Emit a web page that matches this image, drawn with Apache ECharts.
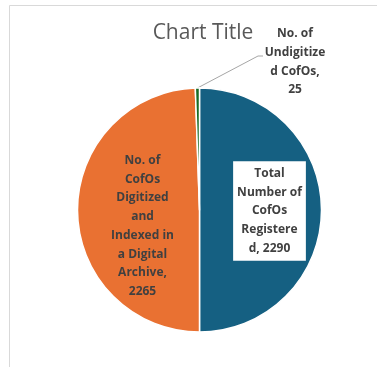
<!DOCTYPE html>
<html>
<head>
<meta charset="utf-8">
<script src="https://cdn.jsdelivr.net/npm/echarts@6/dist/echarts.min.js"></script>
<style>
html,body{margin:0;padding:0;background:#fff;}
#chart{width:377px;height:367px;}
</style>
</head>
<body>
<div id="chart"></div>
<script>
var categories = [
  "Total Number of CofOs Registered",
  "No. of CofOs Digitized and Indexed in a Digital Archive",
  "No. of Undigitized CofOs"
];
var values = [2290, 2265, 25];
var wrappedNames = [
  "Total\nNumber of\nCofOs\nRegistere\nd",
  "No. of\nCofOs\nDigitized\nand\nIndexed in\na Digital\nArchive,",
  "No. of\nUndigitize\nd CofOs,"
];
var colors = ["#156082", "#E97132", "#196B24"];
var titleText = "Chart Title";

var chart = echarts.init(document.getElementById('chart'), null, {renderer: 'canvas'});
var FONT = "'Open Sans', sans-serif";

var data = categories.map(function (c, i) {
  var item = {name: c, value: values[i], itemStyle: {color: colors[i]}};
  if (i === 0) {
    item.label = {
      position: 'inside',
      backgroundColor: '#ffffff',
      padding: [5, 4, 1, 4]
    };
  } else if (i === 1) {
    item.label = {position: 'inside'};
  } else {
    item.label = {position: 'outside'};
    item.labelLine = {show: true, lineStyle: {color: '#A6A6A6', width: 1}};
  }
  return item;
});

chart.setOption({
  animation: false,
  backgroundColor: '#ffffff',
  title: {
    text: titleText,
    left: 198,
    textAlign: 'center',
    top: 18,
    textStyle: {fontFamily: FONT, fontSize: 21, fontWeight: 'normal', color: '#595959'}
  },
  graphic: [{
    type: 'rect',
    shape: {x: 9.5, y: 5.5, width: 400, height: 400},
    style: {fill: 'none', stroke: '#D9D9D9', lineWidth: 1},
    silent: true,
    z: -1
  }],
  series: [{
    type: 'pie',
    center: [199.5, 210],
    radius: [0, 122],
    startAngle: 90,
    clockwise: true,
    avoidLabelOverlap: false,
    itemStyle: {borderColor: '#ffffff', borderWidth: 1.5},
    label: {
      show: true,
      fontFamily: FONT,
      fontSize: 12,
      fontWeight: 'bold',
      color: '#404040',
      lineHeight: 18.7,
      align: 'center',
      formatter: function (p) {
        var sep = p.dataIndex === 0 ? ', ' : '\n';
        return wrappedNames[p.dataIndex] + sep + p.value;
      }
    },
    labelLine: {show: false},
    labelLayout: function (p) {
      if (p.dataIndex === 0) {
        return {dx: 6, dy: 1};
      } else if (p.dataIndex === 1) {
        return {dx: 7, dy: 15};
      } else {
        var a = p.labelLinePoints ? p.labelLinePoints[0] : [197, 88];
        return {
          x: 295, y: 62, align: 'center', verticalAlign: 'middle',
          labelLinePoints: [a, [258, 56], [263, 56]]
        };
      }
    },
    data: data
  }]
});
</script>
</body>
</html>
